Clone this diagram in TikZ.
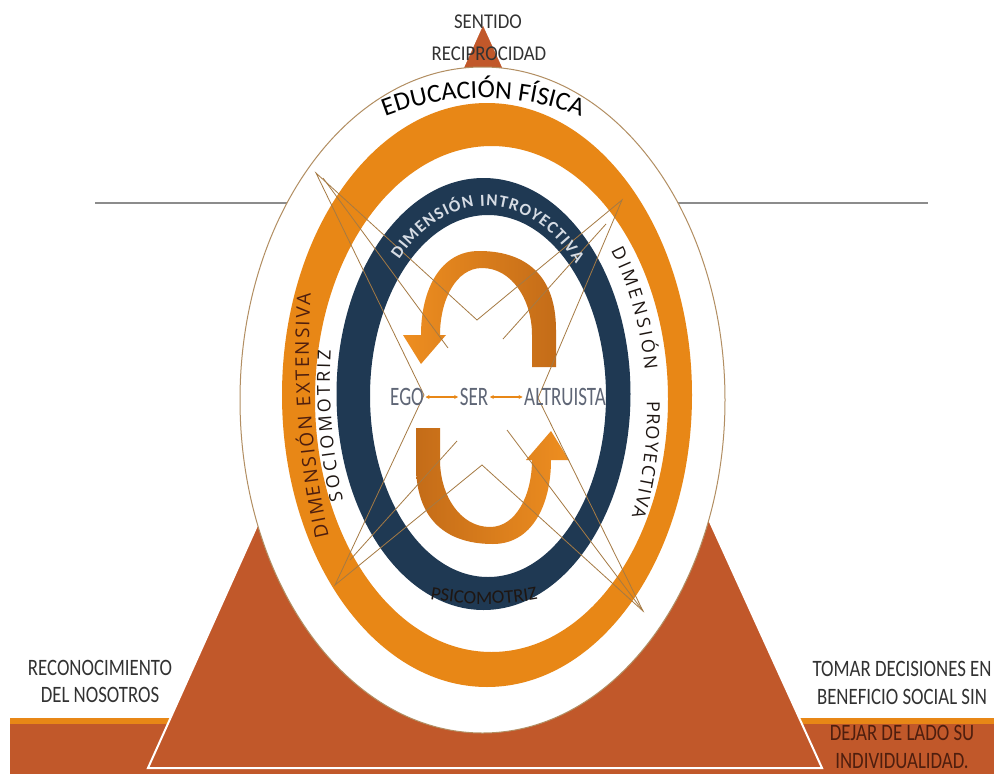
\documentclass[tikz,border=0pt]{standalone}
\usepackage{fontspec}
\usepackage{graphicx}
\setmainfont{Carlito}
\newfontfamily\osans{Open Sans}
\usetikzlibrary{decorations.text,arrows.meta}
\definecolor{rust}{RGB}{193,88,42}
\definecolor{orng}{RGB}{232,135,22}
\definecolor{navy}{RGB}{31,57,83}
\definecolor{tanline}{RGB}{178,142,98}
\definecolor{thinl}{RGB}{165,122,68}
\definecolor{grayl}{RGB}{140,140,140}
\definecolor{txtgray}{RGB}{50,50,50}
\definecolor{egogray}{RGB}{95,102,118}
\definecolor{arrowlight}{RGB}{238,142,32}
\definecolor{arrowdark}{RGB}{196,108,24}
\definecolor{introtxt}{RGB}{214,220,228}
\definecolor{darktxt}{RGB}{30,22,18}
\definecolor{browntxt}{RGB}{78,30,14}
\tikzset{
  lbl/.style={font=\fontsize{18.8}{20}\selectfont, text=txtgray, inner sep=0pt},
  lbldark/.style={font=\fontsize{18.8}{20}\selectfont, text=browntxt, inner sep=0pt},
  egolbl/.style={font=\fontsize{19}{20}\selectfont, text=egogray, inner sep=1.5pt},
  starline/.style={draw=thinl, line width=0.8pt},
  smallarrow/.style={draw=orng, line width=1.1pt, {Stealth[length=4pt,width=4pt]}-{Stealth[length=4pt,width=4pt]}}
}
\begin{document}
\begin{tikzpicture}[x=1pt,y=1pt]
\useasboundingbox (0,-774) rectangle (994,0);
\fill[white] (0,-774) rectangle (994,0);
% horizontal gray line
\draw[grayl, line width=2pt] (95,-203) -- (928,-203);
% bottom band
\fill[orng] (10,-718) rectangle (994,-724);
\fill[rust] (10,-724) rectangle (994,-774);
% triangle
\filldraw[fill=rust, draw=white, line width=2pt] (483,-23) -- (148,-768) -- (822,-768) -- cycle;
% outer ellipse
\filldraw[fill=white, draw=tanline, line width=1pt] (482.5,-400) ellipse [x radius=242.5, y radius=333];
% orange band
\fill[orng, even odd rule] (487,-395) ellipse [x radius=205, y radius=292] (491.5,-399) ellipse [x radius=176.5, y radius=253];
% blue band
\fill[navy, even odd rule] (483.5,-394) ellipse [x radius=147, y radius=216] (488,-396) ellipse [x radius=118, y radius=181];
% top curved arrow
\shade[left color=arrowlight, right color=arrowdark] (556,-367) -- (556,-330) .. controls (556,-270) and (520,-251) .. (479,-251) .. controls (440,-251) and (421,-290) .. (421,-335) -- (403,-335) -- (421,-364) -- (446,-335) -- (440,-335) .. controls (440,-300) and (456,-268) .. (482,-268) .. controls (512,-268) and (532,-300) .. (532,-335) -- (532,-367) -- cycle;
% bottom curved arrow
\shade[left color=arrowdark, right color=arrowlight] (416,-428) -- (416,-465) .. controls (416,-525) and (452,-544) .. (493,-544) .. controls (532,-544) and (551,-505) .. (551,-460) -- (569,-460) -- (551,-431) -- (526,-460) -- (532,-460) .. controls (532,-495) and (516,-527) .. (490,-527) .. controls (460,-527) and (440,-495) .. (440,-460) -- (440,-428) -- cycle;
% star lines
\coordinate (TL) at (316,-173);
\coordinate (Vt) at (477,-320);
\coordinate (TR) at (622,-200);
\coordinate (AL) at (538,-398);
\coordinate (BR) at (643,-611);
\coordinate (Vb) at (482,-465);
\coordinate (BL) at (335,-585);
\coordinate (EG) at (424,-395);
\draw[starline] (TL) -- (Vt) -- (TR) -- (AL) -- (BR) -- (Vb) -- (BL) -- (EG) -- cycle;
\coordinate (X1a) at (323,-178);
\coordinate (X1b) at (448,-348);
\coordinate (X1c) at (507,-430);
\coordinate (X2a) at (606,-224);
\coordinate (X2b) at (503,-339);
\coordinate (X2c) at (457,-441);
\coordinate (X2d) at (350,-560);
\draw[starline] (X1a) -- (X1b);
\draw[starline] (X1c) -- (BR);
\draw[starline] (X2a) -- (X2b);
\draw[starline] (X2c) -- (X2d);
% center labels
\node[egolbl] (ego) at (407,-397) {\scalebox{1}[1.4]{EGO}};
\node[egolbl] (ser) at (474,-397) {\scalebox{1}[1.4]{SER}};
\node[egolbl] (alt) at (565,-397) {\scalebox{1}[1.4]{ALTRUISTA}};
\draw[smallarrow] (ego.east) -- (ser.west);
\draw[smallarrow] (ser.east) -- (alt.west);
% top labels
\node[lbl] (sentido) at (488,-22) {\scalebox{1}[1.12]{SENTIDO}};
\node[lbl] (recip) at (489,-54) {\scalebox{1}[1.12]{RECIPROCIDAD}};
% left labels
\node[lbl] (recon) at (100,-668) {\scalebox{1}[1.25]{RECONOCIMIENTO}};
\node[lbl] (nos) at (100,-695) {\scalebox{1}[1.25]{DEL NOSOTROS}};
% right labels
\node[lbl] (tomar) at (902,-669) {\scalebox{1}[1.25]{TOMAR DECISIONES EN}};
\node[lbl] (benef) at (902,-697) {\scalebox{1}[1.25]{BENEFICIO SOCIAL SIN}};
\node[lbldark] (dejar) at (902,-733) {\scalebox{1}[1.25]{DEJAR DE LADO SU}};
\node[lbldark] (indiv) at (902,-761) {\scalebox{1}[1.25]{INDIVIDUALIDAD.}};
% curved texts
\path[decorate, decoration={text along path, text={|\fontsize{26}{26}\selectfont|EDUCACIÓN FÍSICA}, text align=center, text color=black}]
  (483,-369) ++(125:271) arc[start angle=125, end angle=55, radius=271];
\path[decorate, decoration={text along path, text={|\bfseries\fontsize{17}{17}\selectfont|DIMENSIÓN INTROYECTIVA}, text align={fit to path}, text color=introtxt}]
  (486,-396) ++(134:125 and 190) arc[start angle=134, end angle=44, x radius=125, y radius=190];
\path[decorate, decoration={text along path, text={|\osans\fontsize{18}{18}\selectfont|DIMENSIÓN}, text align={fit to path}, text color=darktxt}]
  (485,-410) ++(39:162 and 253) arc[start angle=39, end angle=9, x radius=162, y radius=253];
\path[decorate, decoration={text along path, text={|\osans\fontsize{18}{18}\selectfont|PROYECTIVA}, text align={fit to path}, text color=darktxt}]
  (485,-410) ++(2:162 and 253) arc[start angle=2, end angle=-25, x radius=162, y radius=253];
\path[decorate, decoration={text along path, text={|\osans\fontsize{19}{19}\selectfont|DIMENSIÓN EXTENSIVA}, text align={fit to path}, text color=browntxt}]
  (487,-350) ++(207.4:178 and 406) arc[start angle=207.4, end angle=172, x radius=178, y radius=406];
\path[decorate, decoration={text along path, text={|\osans\fontsize{18}{18}\selectfont|SOCIOMOTRIZ}, text align={fit to path}, text color=darktxt}]
  (487,-380) ++(203.5:157 and 301) arc[start angle=203.5, end angle=174.3, x radius=157, y radius=301];
\path[decorate, decoration={text along path, text={|\fontsize{19}{19}\selectfont|PSICOMOTRIZ}, text align=center, text color=darktxt}]
  (484,-304) ++(250:300) arc[start angle=250, end angle=290, radius=300];
\end{tikzpicture}
\end{document}
